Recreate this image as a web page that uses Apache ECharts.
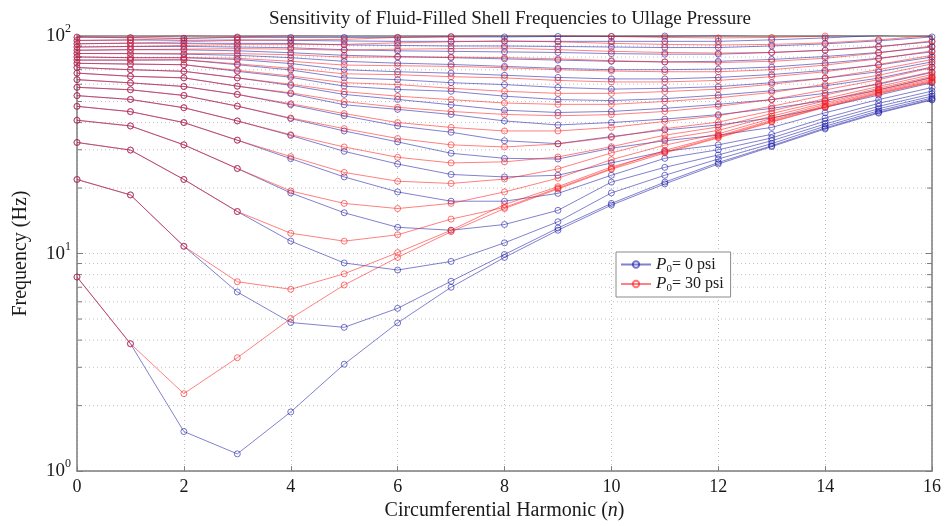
<!DOCTYPE html>
<html><head><meta charset="utf-8">
<script src="https://cdn.jsdelivr.net/npm/echarts@6/dist/echarts.min.js"></script>
<style>html,body{margin:0;padding:0;background:#fff}#c{width:948px;height:526px}</style>
</head><body><div id="c"></div>
<script>
// Circumferential harmonic numbers (x values)
const harmonics = [0,1,2,3,4,5,6,7,8,9,10,11,12,13,14,15,16];
const xTicks = [0,2,4,6,8,10,12,14,16];
const yMinorGrid = [2,3,4,5,6,7,8,9,20,30,40,50,60,70,80,90];
const legendNames = ['P0= 0 psi','P0= 30 psi'];

// P0 = 0 psi (blue), frequency in Hz per mode, n = 0..16
const psi0_mode01 = [7.8, 3.85, 1.52, 1.20, 1.87, 3.10, 4.80, 7.00, 9.60, 12.8, 16.7, 20.9, 25.8, 31.0, 37.4, 44.2, 50.8];
const psi0_mode02 = [21.9, 18.6, 10.8, 6.66, 4.82, 4.58, 5.60, 7.46, 9.90, 13.1, 17.0, 21.3, 26.2, 31.3, 37.8, 44.6, 51.2];
const psi0_mode03 = [32.4, 29.9, 21.9, 15.6, 11.4, 9.05, 8.40, 9.20, 11.2, 14.0, 19.0, 22.9, 27.2, 32.0, 38.5, 45.3, 51.9];
const psi0_mode04 = [41.0, 38.6, 31.6, 24.6, 19.0, 15.4, 13.2, 12.8, 13.6, 15.8, 21.3, 24.9, 28.4, 33.0, 39.4, 46.3, 52.9];
const psi0_mode05 = [47.5, 44.9, 40.0, 33.2, 27.3, 22.5, 19.2, 17.4, 17.4, 18.9, 22.9, 27.4, 30.0, 34.0, 40.6, 47.5, 54.2];
const psi0_mode06 = [53.2, 51.1, 46.8, 40.7, 34.9, 29.5, 25.8, 23.1, 22.5, 22.9, 26.1, 29.5, 31.6, 35.3, 42.0, 49.0, 55.8];
const psi0_mode07 = [58.1, 56.6, 53.3, 47.6, 41.7, 36.6, 32.6, 28.9, 27.4, 27.2, 30.5, 33.0, 35.0, 38.0, 44.4, 51.0, 58.0];
const psi0_mode08 = [63.0, 60.9, 58.6, 53.9, 48.3, 43.0, 38.6, 36.1, 33.0, 32.0, 34.5, 37.0, 39.0, 42.0, 47.0, 53.5, 61.0];
const psi0_mode09 = [67.5, 65.3, 64.2, 58.8, 54.3, 48.3, 46.0, 43.6, 40.7, 39.0, 40.0, 41.5, 43.5, 46.5, 50.5, 56.5, 64.5];
const psi0_mode10 = [71.6, 70.0, 68.8, 64.2, 59.3, 53.9, 51.1, 48.3, 45.6, 44.5, 45.0, 46.5, 48.5, 51.0, 54.5, 60.0, 68.0];
const psi0_mode11 = [74.9, 74.3, 73.8, 68.8, 64.6, 58.8, 56.8, 55.7, 52.9, 51.0, 50.5, 51.5, 53.5, 56.0, 59.0, 64.0, 72.0];
const psi0_mode12 = [77.5, 77.5, 77.7, 73.8, 69.8, 64.2, 63.0, 61.0, 59.8, 58.0, 57.0, 57.5, 58.5, 61.0, 64.0, 68.5, 76.0];
const psi0_mode13 = [80.1, 79.5, 79.5, 78.0, 74.7, 70.0, 68.5, 67.5, 66.0, 64.5, 63.5, 63.5, 64.5, 66.5, 69.5, 73.5, 80.0];
const psi0_mode14 = [83.1, 83.0, 82.5, 81.5, 79.5, 76.5, 75.0, 74.0, 72.5, 71.0, 70.0, 70.0, 70.5, 72.0, 75.0, 79.0, 84.5];
const psi0_mode15 = [86.0, 86.5, 86.4, 85.5, 83.8, 81.5, 80.5, 79.5, 78.5, 77.5, 76.5, 76.0, 76.5, 78.0, 80.5, 84.0, 89.0];
const psi0_mode16 = [89.0, 89.5, 89.5, 89.0, 88.3, 86.5, 85.5, 85.0, 84.5, 84.0, 83.0, 82.5, 82.5, 84.0, 86.0, 89.5, 94.0];
const psi0_mode17 = [92.1, 92.7, 92.5, 92.5, 92.4, 91.0, 90.5, 90.0, 90.0, 89.5, 89.0, 88.5, 88.5, 90.0, 92.0, 95.0, 99.0];
const psi0_mode18 = [95.4, 95.9, 95.5, 95.9, 95.5, 94.9, 94.5, 94.5, 94.5, 94.5, 94.5, 94.5, 94.5, 96.0, 98.0, 100.5, 104.0];
const psi0_mode19 = [98.8, 98.2, 97.6, 98.5, 98.5, 98.5, 98.5, 99.0, 99.0, 99.5, 99.5, 100.0, 100.5, 102.0, 104.0, 106.0, 110.0];

// P0 = 30 psi (red)
const psi30_mode01 = [7.8, 3.85, 2.27, 3.32, 5.03, 7.17, 9.60, 12.6, 16.1, 19.8, 24.4, 29.0, 34.0, 40.2, 47.0, 54.2, 61.5];
const psi30_mode02 = [21.9, 18.6, 10.8, 7.42, 6.85, 8.07, 10.1, 12.8, 16.8, 20.3, 25.0, 29.3, 34.3, 40.5, 47.3, 54.6, 61.9];
const psi30_mode03 = [32.4, 29.9, 21.9, 15.6, 12.4, 11.4, 12.2, 14.4, 16.3, 20.0, 24.6, 29.8, 34.7, 41.0, 47.8, 55.1, 62.5];
const psi30_mode04 = [41.0, 38.6, 31.6, 24.6, 19.4, 17.0, 16.1, 17.0, 19.2, 22.2, 27.0, 31.5, 35.5, 41.8, 48.5, 55.8, 63.3];
const psi30_mode05 = [47.5, 44.9, 40.0, 33.2, 27.9, 23.6, 21.5, 21.0, 22.0, 24.5, 29.0, 33.6, 36.8, 42.8, 49.3, 56.6, 64.2];
const psi30_mode06 = [53.2, 51.1, 46.8, 40.7, 35.2, 30.9, 27.7, 26.1, 26.4, 27.8, 31.0, 35.0, 38.2, 44.0, 50.3, 57.5, 65.2];
const psi30_mode07 = [58.1, 56.6, 53.3, 47.6, 42.0, 37.5, 33.8, 31.6, 30.9, 31.9, 34.2, 37.5, 40.2, 45.3, 51.5, 58.6, 66.5];
const psi30_mode08 = [63.0, 60.9, 58.6, 53.9, 48.8, 44.0, 40.0, 38.0, 36.6, 36.6, 38.0, 40.5, 43.0, 47.5, 53.5, 60.5, 68.5];
const psi30_mode09 = [67.5, 65.3, 64.2, 58.8, 54.8, 50.0, 47.0, 45.0, 43.6, 43.0, 43.5, 45.0, 47.5, 51.0, 56.5, 63.0, 71.5];
const psi30_mode10 = [71.6, 70.0, 68.8, 64.2, 60.0, 55.5, 52.9, 51.0, 49.2, 48.5, 48.5, 50.0, 52.0, 55.0, 60.0, 66.0, 74.5];
const psi30_mode11 = [74.9, 74.3, 73.8, 69.5, 65.5, 61.0, 59.8, 57.5, 55.7, 54.5, 54.5, 55.5, 57.0, 60.0, 64.0, 70.0, 78.0];
const psi30_mode12 = [77.5, 77.5, 77.7, 74.5, 71.0, 67.0, 66.4, 65.0, 64.2, 62.5, 61.5, 61.5, 62.5, 65.0, 68.5, 74.0, 81.5];
const psi30_mode13 = [80.1, 79.5, 79.5, 79.0, 76.5, 73.5, 73.0, 72.5, 71.5, 70.0, 69.0, 68.5, 68.5, 70.0, 73.5, 78.5, 85.5];
const psi30_mode14 = [83.1, 83.0, 83.0, 83.0, 82.0, 80.0, 80.0, 80.0, 79.5, 78.5, 77.0, 76.0, 75.5, 76.5, 79.0, 83.5, 90.0];
const psi30_mode15 = [86.0, 86.5, 87.0, 87.5, 87.0, 86.0, 87.0, 87.5, 88.0, 86.5, 85.0, 84.0, 83.5, 84.0, 86.0, 89.0, 95.0];
const psi30_mode16 = [89.0, 89.5, 90.5, 91.5, 91.5, 91.5, 93.0, 94.0, 95.0, 94.0, 92.5, 91.5, 91.0, 91.5, 93.0, 96.0, 100.5];
const psi30_mode17 = [92.1, 92.7, 94.0, 95.5, 96.0, 96.5, 98.5, 99.5, 101.0, 100.5, 99.5, 98.5, 98.0, 98.5, 100.0, 103.0, 107.0];
const psi30_mode18 = [95.4, 95.9, 97.5, 99.0, 100.5, 101.5, 104.0, 105.0, 106.0, 106.0, 105.0, 104.0, 104.0, 105.0, 107.0, 110.0, 114.0];
const psi30_mode19 = [98.8, 98.2, 100.5, 102.5, 104.5, 106.0, 109.0, 110.0, 111.0, 111.0, 110.0, 109.0, 109.0, 110.0, 112.0, 115.0, 120.0];

const psi0Modes = [psi0_mode01, psi0_mode02, psi0_mode03, psi0_mode04, psi0_mode05, psi0_mode06, psi0_mode07, psi0_mode08, psi0_mode09, psi0_mode10, psi0_mode11, psi0_mode12, psi0_mode13, psi0_mode14, psi0_mode15, psi0_mode16, psi0_mode17, psi0_mode18, psi0_mode19];
const psi30Modes = [psi30_mode01, psi30_mode02, psi30_mode03, psi30_mode04, psi30_mode05, psi30_mode06, psi30_mode07, psi30_mode08, psi30_mode09, psi30_mode10, psi30_mode11, psi30_mode12, psi30_mode13, psi30_mode14, psi30_mode15, psi30_mode16, psi30_mode17, psi30_mode18, psi30_mode19];

const SERIF = '"Liberation Serif","Times New Roman",Times,serif';
const BLUE = '#1a1aa8', RED = '#ff1a1a';
const AXIS = '#7d7d7d', GRID = '#c2c2c2', TEXT = '#1a1a1a';

function lineSeries(name, color, values, z) {
  return {
    type: 'line', name: name, z: z,
    data: harmonics.map((n, i) => [n, values[i]]),
    symbol: 'circle', symbolSize: 6, showSymbol: true, clip: true,
    lineStyle: { color: color, width: 1, opacity: 0.55 },
    itemStyle: { color: 'rgba(0,0,0,0)', borderColor: color, borderWidth: 1, opacity: 0.6 },
    emphasis: { disabled: true }, animation: false
  };
}

const series = [];
series.push({
  type: 'custom', name: 'minorGrid', coordinateSystem: 'cartesian2d', silent: true, z: 1, clip: false,
  data: yMinorGrid.map(v => [0, v]), encode: { x: 0, y: 1 },
  renderItem: function (params, api) {
    const v = api.value(1);
    const a = api.coord([0, v]);
    const b = api.coord([16, v]);
    return { type: 'group', children: [
      { type: 'line', shape: { x1: a[0], y1: a[1], x2: b[0], y2: b[1] }, style: { stroke: GRID, lineWidth: 1, lineDash: [1, 3] } },
      { type: 'line', shape: { x1: a[0], y1: a[1], x2: a[0] + 5, y2: a[1] }, style: { stroke: AXIS, lineWidth: 1 } },
      { type: 'line', shape: { x1: b[0] - 5, y1: b[1], x2: b[0], y2: b[1] }, style: { stroke: AXIS, lineWidth: 1 } }
    ] };
  }
});
psi0Modes.forEach(m => series.push(lineSeries(legendNames[0], BLUE, m, 3)));
psi30Modes.forEach(m => series.push(lineSeries(legendNames[1], RED, m, 4)));

const supRich = {
  b: { fontFamily: SERIF, fontSize: 19, color: TEXT },
  s: { fontFamily: SERIF, fontSize: 12, color: TEXT, padding: [0, 0, 14, 0] }
};

const option = {
  backgroundColor: '#fff',
  animation: false,
  title: {
    text: 'Sensitivity of Fluid-Filled Shell Frequencies to Ullage Pressure',
    left: 505, top: 5, textAlign: 'center',
    textStyle: { fontFamily: SERIF, fontSize: 19, fontWeight: 'normal', color: TEXT }
  },
  legend: {
    data: legendNames, orient: 'vertical', left: 616, top: 252,
    backgroundColor: '#fff', borderColor: '#8a8a8a', borderWidth: 1, borderRadius: 0,
    padding: [4, 7, 3, 4], itemGap: 1, itemWidth: 30, itemHeight: 8,
    formatter: function (name) {
      return name === legendNames[0] ? '{it|P}{sub|0}= 0 psi' : '{it|P}{sub|0}= 30 psi';
    },
    textStyle: {
      fontFamily: SERIF, fontSize: 16, color: TEXT,
      rich: {
        it: { fontFamily: SERIF, fontSize: 17, fontStyle: 'italic', color: TEXT },
        sub: { fontFamily: SERIF, fontSize: 11, color: TEXT, padding: [9, 0, 0, 0] }
      }
    }
  },
  grid: { left: 77, right: 16, top: 36, bottom: 51, containLabel: false },
  xAxis: [{
    type: 'value', min: 0, max: 16, interval: 2,
    axisLine: { show: true, onZero: false, lineStyle: { color: AXIS, width: 1.5 } },
    axisTick: { show: true, inside: true, length: 5, lineStyle: { color: AXIS } },
    axisLabel: { color: TEXT, fontFamily: SERIF, fontSize: 18, margin: 7, customValues: xTicks },
    splitLine: { show: true, lineStyle: { color: GRID, type: [1, 3], width: 1 } },
    name: 'Circumferential Harmonic ({i|n})', nameLocation: 'middle', nameGap: 27,
    nameTextStyle: { fontFamily: SERIF, fontSize: 20, color: TEXT,
      rich: { i: { fontFamily: SERIF, fontSize: 20, fontStyle: 'italic', color: TEXT } } }
  }, {
    type: 'value', position: 'top', min: 0, max: 16, interval: 2,
    axisLine: { show: true, onZero: false, lineStyle: { color: AXIS, width: 1.5 } },
    axisTick: { show: true, inside: true, length: 5, lineStyle: { color: AXIS } },
    axisLabel: { show: false }, splitLine: { show: false }
  }],
  yAxis: [{
    type: 'log', logBase: 10, min: 1, max: 100,
    axisLine: { show: true, onZero: false, lineStyle: { color: AXIS, width: 1.5 } },
    axisTick: { show: true, inside: true, length: 6, lineStyle: { color: AXIS } },
    axisLabel: {
      margin: 6, rich: supRich,
      formatter: function (v) { return '{b|10}{s|' + Math.round(Math.log10(v)) + '}'; }
    },
    splitLine: { show: true, lineStyle: { color: GRID, type: [1, 3], width: 1 } },
    name: 'Frequency (Hz)', nameLocation: 'middle', nameGap: 46, nameRotate: 90,
    nameTextStyle: { fontFamily: SERIF, fontSize: 20, color: TEXT }
  }, {
    type: 'log', logBase: 10, min: 1, max: 100, position: 'right',
    axisLine: { show: true, onZero: false, lineStyle: { color: AXIS, width: 1.5 } },
    axisTick: { show: true, inside: true, length: 6, lineStyle: { color: AXIS } },
    axisLabel: { show: false }, splitLine: { show: false }
  }],
  series: series
};

const chart = echarts.init(document.getElementById('c'));
chart.setOption(option);
</script>
</body></html>
